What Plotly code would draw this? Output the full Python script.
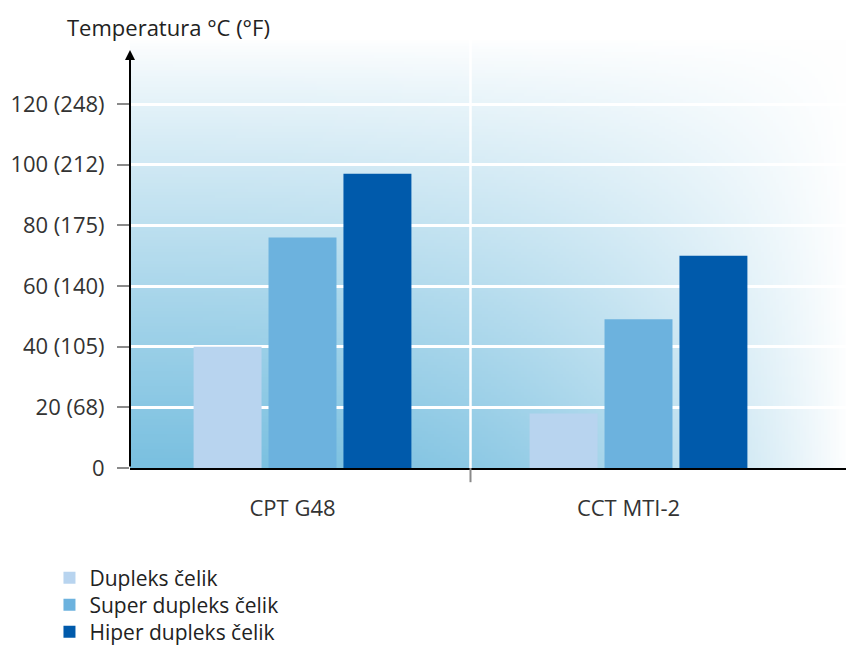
import base64, struct, zlib
import numpy as np
import plotly.graph_objects as go

# ---- data ----
categories = ["CPT G48", "CCT MTI-2"]
series_names = ["Dupleks čelik", "Super dupleks čelik", "Hiper dupleks čelik"]
dupleks = [40, 18]
super_dupleks = [76, 49]
hiper_dupleks = [97, 70]
ytick_vals = [0, 20, 40, 60, 80, 100, 120]
ytick_text = ["0", "20 (68)", "40 (105)", "60 (140)", "80 (175)", "100 (212)", "120 (248)"]
colors = ["#b8d4ef", "#6cb2de", "#005aab"]

# ---- gradient background image (style only) ----
def gradient_png(w=240, h=144):
    xn = np.linspace(0, 1, w)[None, :]
    yn = np.linspace(1, 0, h)[:, None]
    inten = np.clip(1 - yn, 0, 1) ** 0.85 * (1 - xn ** 2.6)
    inten = np.clip(inten, 0, 1)
    base = np.array([122, 192, 224], dtype=float)
    white = np.array([255, 255, 255], dtype=float)
    img = white[None, None, :] - inten[..., None] * (white - base)[None, None, :]
    img = np.clip(img, 0, 255).astype(np.uint8)
    raw = b"".join(b"\x00" + img[r].tobytes() for r in range(h))

    def chunk(t, d):
        c = struct.pack(">I", len(d)) + t + d
        return c + struct.pack(">I", zlib.crc32(t + d) & 0xFFFFFFFF)

    png = b"\x89PNG\r\n\x1a\n" + chunk(b"IHDR", struct.pack(">IIBBBBB", w, h, 8, 2, 0, 0, 0)) \
        + chunk(b"IDAT", zlib.compress(raw, 9)) + chunk(b"IEND", b"")
    return "data:image/png;base64," + base64.b64encode(png).decode()

FONT = "Open Sans"
FS = 22
LFS = 21
legend_ids = ["legend", "legend2", "legend3"]
legend_y = [-0.2558, -0.3186, -0.3814]

fig = go.Figure()
for name, vals, col, lid in zip(series_names, [dupleks, super_dupleks, hiper_dupleks], colors, legend_ids):
    fig.add_trace(go.Bar(x=categories, y=vals, name=name, legend=lid,
                         marker=dict(color=col, line=dict(width=0))))

legend_common = dict(x=-0.112, xanchor="left", yanchor="middle", orientation="v",
                     font=dict(family=FONT, size=LFS, color="#222"), bgcolor="rgba(0,0,0,0)",
                     itemwidth=30)

# page body has an 8px margin, so the figure is sized to fit the 854x646 window
fig.update_layout(
    width=846, height=638,
    margin=dict(l=122, r=5, t=30, b=178, autoexpand=False),
    paper_bgcolor="white",
    plot_bgcolor="rgba(0,0,0,0)",
    barmode="group", bargap=0.331, bargroupgap=0.093,
    font=dict(family=FONT, size=FS, color="#333"),
    showlegend=True,
    legend=dict(y=legend_y[0], **legend_common),
    legend2=dict(y=legend_y[1], **legend_common),
    legend3=dict(y=legend_y[2], **legend_common),
    images=[dict(source=gradient_png(), xref="paper", yref="paper", x=0, y=1, sizex=1, sizey=1,
                 xanchor="left", yanchor="top", sizing="stretch", layer="below")],
)
fig.update_xaxes(type="category", range=[-0.5134, 1.6265], showgrid=False, showline=True,
                 linecolor="black", linewidth=2, ticks="", ticklabelstandoff=20,
                 ticklabelshift=-10, tickfont=dict(size=FS, color="#333"), zeroline=False)
fig.update_yaxes(range=[0, 141.76], tickvals=ytick_vals, ticktext=ytick_text, showgrid=True,
                 gridcolor="white", gridwidth=2.5, zeroline=False, showline=False,
                 ticks="outside", ticklen=12, tickwidth=2, tickcolor="#8a8a8a",
                 ticklabelstandoff=8, tickfont=dict(size=FS, color="#333"))

# category divider, y-axis arrow, small end tick
fig.add_shape(type="line", xref="x", yref="paper", x0=0.5, x1=0.5, y0=0, y1=1,
              line=dict(color="white", width=2.5), layer="below")
fig.add_shape(type="line", xref="x", yref="paper", x0=0.5, x1=0.5, y0=0, y1=-0.033,
              line=dict(color="#8a8a8a", width=2))
fig.add_shape(type="line", xref="paper", yref="paper", x0=1, x1=1, y0=0, y1=0.02,
              line=dict(color="#555", width=1.5))
fig.add_annotation(xref="paper", yref="paper", x=0, y=0.972, ax=0, ay=418, text="",
                   showarrow=True, arrowhead=2, arrowsize=1, arrowwidth=2, arrowcolor="black")
fig.add_annotation(xref="paper", yref="paper", x=-0.0904, y=1.0256, xanchor="left", yanchor="middle",
                   text="Temperatura °C (°F)", showarrow=False,
                   font=dict(family=FONT, size=FS, color="#222"))

fig.write_html("out.html")
